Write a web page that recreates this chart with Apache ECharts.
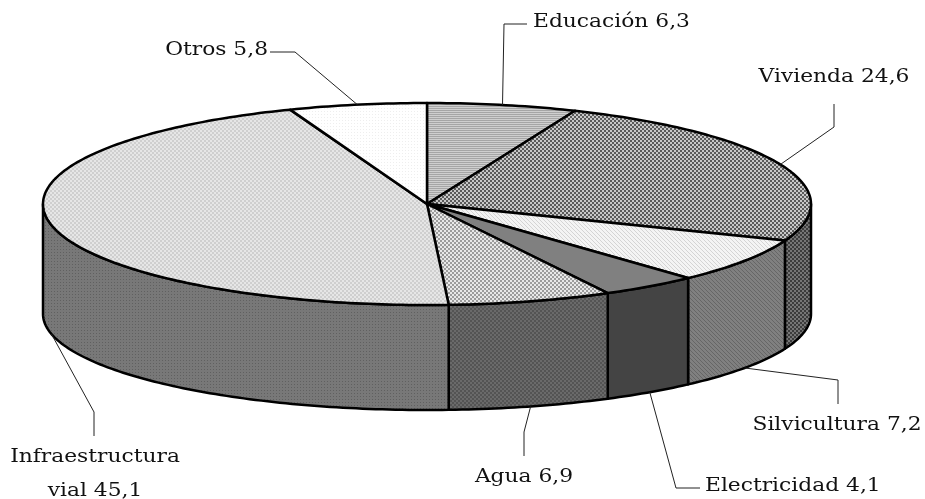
<!DOCTYPE html>
<html><head><meta charset="utf-8">
<style>html,body{margin:0;padding:0;background:#fff}#c{width:925px;height:499px}</style>
<script src="https://cdn.jsdelivr.net/npm/echarts@6/dist/echarts.min.js"></script>
</head><body><div id="c"></div>
<script>
const categories = ['Educación','Vivienda','Silvicultura','Electricidad','Agua','Infraestructura\nvial','Otros'];
const values = [6.3,24.6,7.2,4.1,6.9,45.1,5.8];

// geometry of the tilted disc
const TOP = {cx:427, cy:204, rx:384, ry:101};
const BOT = {cx:427, cy:314, rx:384, ry:96};
const FONT = '"DejaVu Serif", serif';
const FONT_SIZE = 18;
const TEXT_STRETCH = 1.21;

// leader-line elbows/ends and label placement, per slice
const layout = [
  {from:'top', via:[[504,24],[527,24]], text:[533,22], align:'left'},
  {from:'top', via:[[834,127],[834,104]], text:[834,77], align:'center'},
  {from:'bot', via:[[838,380],[838,404]], text:[837,425], align:'center'},
  {from:'bot', via:[[676,488],[700,488]], text:[705,486], align:'left'},
  {from:'bot', via:[[524,432],[524,456]], text:[524,477], align:'center'},
  {from:'bot', via:[[94,412],[94,436]], text:[95,474], align:'center'},
  {from:'top', via:[[295,52],[270,52]], text:[268,50], align:'right'}
];

function tile(w,h,draw){
  const c=document.createElement('canvas');c.width=w;c.height=h;
  const g=c.getContext('2d');draw(g);
  return {image:c,repeat:'repeat'};
}
function rows(a,b){return tile(1,2,g=>{g.fillStyle=a;g.fillRect(0,0,1,1);g.fillStyle=b;g.fillRect(0,1,1,1);});}
function checker(a,b){return tile(4,4,g=>{g.fillStyle=a;g.fillRect(0,0,4,4);g.fillStyle=b;g.fillRect(0,0,2,2);g.fillRect(2,2,2,2);});}
function dots(a,b){return tile(3,3,g=>{g.fillStyle=a;g.fillRect(0,0,3,3);g.fillStyle=b;g.fillRect(0,0,1,1);});}
function diag(a,b){return tile(4,4,g=>{g.fillStyle=a;g.fillRect(0,0,4,4);g.fillStyle=b;for(let i=0;i<4;i++)g.fillRect(i,i,1,1);});}
const topFill = [rows('#a6a6a6','#cfcfcf'),checker('#5a5a5a','#c8c8c8'),diag('#f4f4f4','#d4d4d4'),'#808080',checker('#e8e8e8','#9c9c9c'),checker('#e6e6e6','#cfcfcf'),dots('#ffffff','#eeeeee')];
const wallFill = [ '#666',checker('#3c3c3c','#767676'),diag('#808080','#666666'),'#444444',checker('#545454','#6a6a6a'),dots('#787878','#606060'),'#666'];

const total = values.reduce((a,b)=>a+b,0);
const starts = []; values.reduce((s,v,i)=>{starts[i]=s;return s+v;},0);
const toDeg = v => v/total*360;
const pt = (e,d) => {const r=d*Math.PI/180;return [e.cx+e.rx*Math.sin(r), e.cy-e.ry*Math.cos(r)];};
function arc(e,a,b){const out=[];const n=Math.max(2,Math.ceil(Math.abs(b-a)));for(let k=0;k<=n;k++)out.push(pt(e,a+(b-a)*k/n));return out;}

function renderItem(params, api){
  const i = params.dataIndex, v = api.value(0);
  const a0 = toDeg(starts[i]), a1 = a0+toDeg(v), mid=(a0+a1)/2;
  const kids=[];
  const lo=Math.max(a0,90), hi=Math.min(a1,270);
  if(hi>lo){
    kids.push({type:'polygon',z2:1,shape:{points:arc(TOP,lo,hi).concat(arc(BOT,hi,lo))},
      style:{fill:wallFill[i],stroke:'#000',lineWidth:2.5,lineJoin:'round'}});
  }
  kids.push({type:'polygon',z2:2,shape:{points:[[TOP.cx,TOP.cy]].concat(arc(TOP,a0,a1))},
    style:{fill:topFill[i],stroke:'#000',lineWidth:2.5,lineJoin:'round'}});
  const L=layout[i];
  kids.push({type:'polyline',z2:3,shape:{points:[pt(L.from==='top'?TOP:BOT,mid)].concat(L.via)},
    style:{fill:null,stroke:'#222',lineWidth:1}});
  kids.push({type:'text',z2:4,x:L.text[0],y:L.text[1],scaleX:TEXT_STRETCH,style:{
    text:categories[i]+' '+v.toFixed(1).replace('.',','),
    font:FONT_SIZE+'px '+FONT,fill:'#111',align:L.align,verticalAlign:'middle',lineHeight:34}});
  return {type:'group',children:kids};
}

const chart = echarts.init(document.getElementById('c'),null,{renderer:'canvas'});
chart.setOption({
  animation:false,
  backgroundColor:'#fff',
  series:[{type:'custom',coordinateSystem:'none',data:values.map(v=>[v]),renderItem,silent:true}]
});
</script></body></html>
